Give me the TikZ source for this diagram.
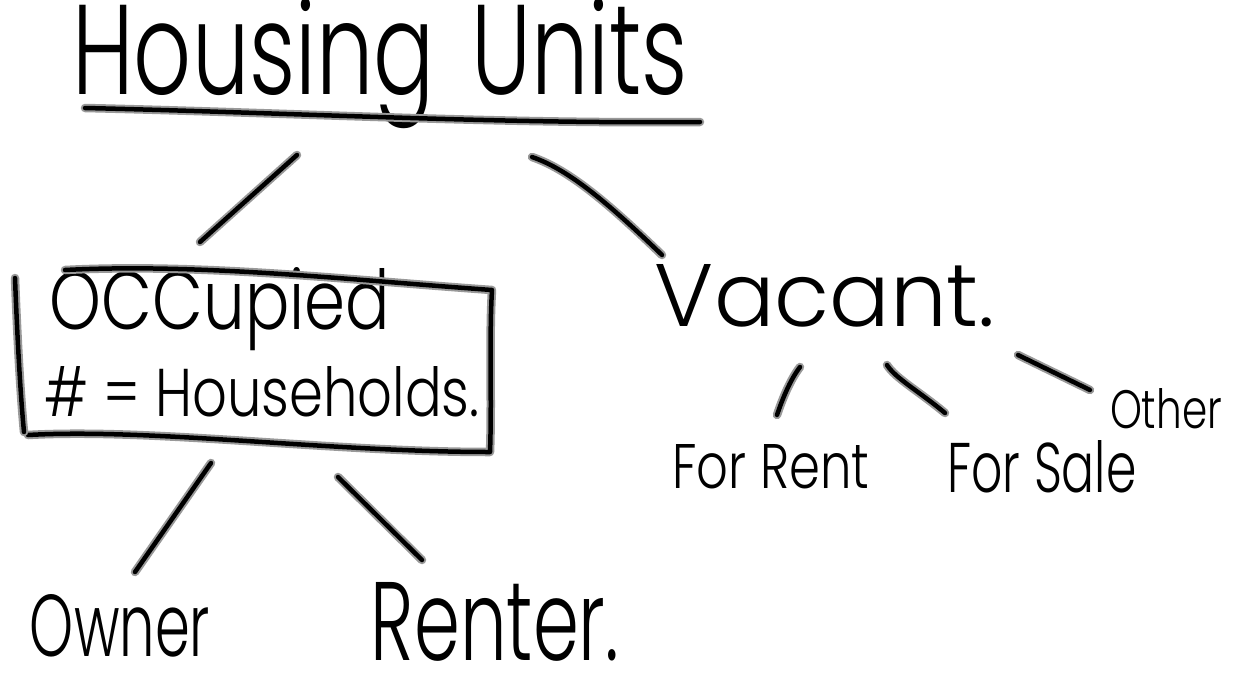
\documentclass[tikz,border=0pt]{standalone}
\usepackage{fontspec}
\setmainfont{Poppins}[UprightFont=* Light]
\usepackage{graphicx}
\tikzset{
  ink/.style={draw=black, line width=4.5pt, line cap=round, line join=round,
    preaction={draw=black!40, line width=8.5pt, line cap=round, line join=round}},
  label/.style={inner sep=0pt, outer sep=0pt, text=black}
}
% text fitted into a given width and height
\newcommand{\fit}[3]{\resizebox{#1pt}{#2pt}{#3}}
\begin{document}
\begin{tikzpicture}[x=1pt, y=-1pt]
\useasboundingbox[fill=white] (0,0) rectangle (1234,675);

% title and its underline
\node[label] (hu) at (380,64) {\fit{615}{96}{Housing\hspace{0.4em}Units}};
\draw[ink] (85,108) .. controls (300,113) and (500,124) .. (700,122);

% occupied branch
\node[label] (occ) at (220,309) {\fit{340}{62}{OCCupied}};
\node[label] (hh) at (262,392) {\fit{435}{50}{\# = Households.}};
\draw[ink] (65,270) .. controls (200,263) and (350,280) .. (492,290)
  .. controls (489,340) and (492,400) .. (490,452)
  .. controls (330,452) and (150,428) .. (28,435);
\draw[ink] (15,278) .. controls (17,330) and (20,390) .. (24,432);

\node[label] (own) at (120,626) {\fit{180}{62}{Owner}};
\node[label] (rent) at (495,622) {\fit{248}{78}{Renter.}};

% vacant branch
\node[label] (vac) at (825,296) {\fit{340}{62}{Vacant.}};
\node[label] (fr) at (771,467) {\fit{197}{44}{For Rent}};
\node[label] (fs) at (1042,467) {\fit{189}{52}{For Sale}};
\node[label] (oth) at (1166,409) {\fit{112}{40}{Other}};

% connector end points
\coordinate (a1) at (297,155); \coordinate (a2) at (200,242);
\coordinate (b1) at (532,157); \coordinate (b2) at (662,255);
\coordinate (c1) at (211,463); \coordinate (c2) at (135,572);
\coordinate (d1) at (338,477); \coordinate (d2) at (422,560);
\coordinate (e1) at (800,367); \coordinate (e2) at (777,415);
\coordinate (f1) at (887,365); \coordinate (f2) at (945,413);
\coordinate (g1) at (1018,355); \coordinate (g2) at (1090,390);

\draw[ink] (a1) -- (a2);
\draw[ink] (b1) .. controls (570,170) and (610,205) .. (b2);
\draw[ink] (c1) -- (c2);
\draw[ink] (d1) -- (d2);
\draw[ink] (e1) .. controls (790,380) and (782,400) .. (e2);
\draw[ink] (f1) .. controls (895,378) and (920,392) .. (f2);
\draw[ink] (g1) -- (g2);
\end{tikzpicture}
\end{document}
